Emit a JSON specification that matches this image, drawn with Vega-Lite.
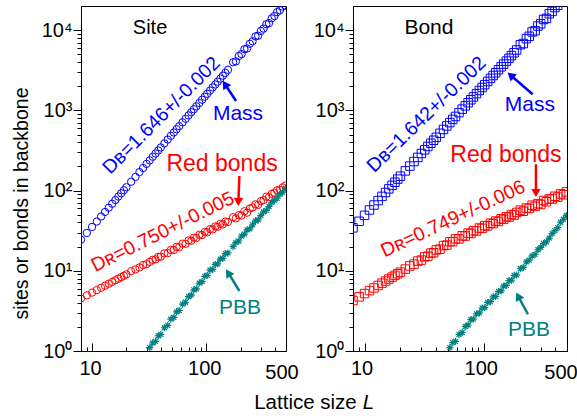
{
"$schema": "https://vega.github.io/schema/vega-lite/v6.json",
"background": "white",
"padding": {"left": 10, "top": 5, "right": 5, "bottom": 5},
"config": {
  "font": "Liberation Sans",
  "view": {"stroke": "black", "strokeWidth": 1},
  "axis": {"grid": false, "domainColor": "black", "tickColor": "black", "labelColor": "black", "titleColor": "black", "labelFont": "Liberation Sans", "labelFontSize": 20, "titleFont": "Liberation Sans", "titleFontWeight": "normal", "titleFontSize": 20, "labelFlush": false, "labelOverlap": false, "labelBound": false, "tickWidth": 1, "domainWidth": 1}
},
"datasets": {
"site": [
{"L":8,"m":24.4,"r":4.52},{"L":9,"m":29.6,"r":4.94},{"L":10,"m":35.2,"r":5.35},{"L":11,"m":41.1,"r":5.75},{"L":12,"m":47.5,"r":6.14},{"L":13,"m":54.1,"r":6.52},{"L":14,"m":61.2,"r":6.9},{"L":15,"m":68.5,"r":7.27},{"L":16,"m":76.2,"r":7.63},{"L":17,"m":84.2,"r":7.98},{"L":18,"m":92.5,"r":8.34},{"L":19,"m":101,"r":8.68},{"L":20,"m":110,"r":9.03},{"L":22,"m":129,"r":9.9},{"L":24,"m":148,"r":10.4},{"L":26,"m":170,"r":11.0},{"L":28,"m":191,"r":11.8},{"L":30,"m":215,"r":12.1},
{"L":32,"m":238,"r":12.9,"p":1.10},{"L":34,"m":264,"r":13.7,"p":1.26},{"L":36,"m":290,"r":13.9,"p":1.32},{"L":38,"m":316,"r":14.9,"p":1.55},{"L":40,"m":345,"r":15.0,"p":1.61},{"L":43,"m":388,"r":16.5,"p":1.95},{"L":46,"m":433,"r":16.6,"p":2.09},{"L":49,"m":481,"r":18.2,"p":2.49},{"L":52,"m":530,"r":18.2,"p":2.62},{"L":55,"m":582,"r":19.9,"p":3.08},{"L":58,"m":635,"r":19.7,"p":3.2},{"L":62,"m":709,"r":21.8,"p":3.84},{"L":66,"m":785,"r":21.7,"p":4.05},{"L":70,"m":865,"r":23.9,"p":4.77},{"L":74,"m":948,"r":23.7,"p":4.96},{"L":78,"m":1034,"r":25.9,"p":5.79},{"L":82,"m":1122,"r":25.6,"p":5.96},{"L":87,"m":1237,"r":28.1,"p":7.03},{"L":92,"m":1357,"r":27.9,"p":7.31},{"L":97,"m":1480,"r":30.5,"p":8.53},{"L":102,"m":1608,"r":30.2,"p":8.78},{"L":108,"m":1766,"r":33.1,"p":10.2},{"L":114,"m":1931,"r":32.8,"p":10.4},{"L":120,"m":2101,"r":35.8,"p":12.0},{"L":126,"m":2277,"r":35.4,"p":12.2},{"L":133,"m":2488,"r":38.5,"p":14.0},{"L":140,"m":2707,"r":37.9,"p":14.3},{"L":147,"m":2934,"r":41.1,"p":16.4},{"L":155,"m":3201,"r":40.6,"p":16.7},
{"L":172,"m":3977,"r":46.5,"p":20.0},{"L":182,"m":4075,"r":45.0,"p":22.4},{"L":193,"m":4755,"r":49.5,"p":23.5},{"L":204,"m":5030,"r":48.8,"p":27.1},{"L":216,"m":5789,"r":55.2,"p":28.7},{"L":228,"m":5903,"r":53.0,"p":32.4},{"L":241,"m":6772,"r":59.8,"p":33.4},{"L":255,"m":7263,"r":61.7,"p":37.4},{"L":270,"m":8359,"r":67.4,"p":41.9},{"L":285,"m":8523,"r":66.3,"p":43.1},{"L":301,"m":9768,"r":73.9,"p":48.7},{"L":318,"m":10450,"r":76.1,"p":54.4},{"L":336,"m":11840,"r":84.0,"p":56.7},{"L":355,"m":12240,"r":82.5,"p":63.3},{"L":375,"m":14030,"r":91.1,"p":70.7},{"L":396,"m":14990,"r":93.7,"p":75.3},{"L":418,"m":16770,"r":100.9,"p":80.2},{"L":442,"m":17750,"r":101.6,"p":89.7},{"L":467,"m":19670,"r":109.6,"p":95.7},{"L":494,"m":20300,"r":115.6,"p":107}
],
"bond": [
{"L":8,"m":34.3,"r":4.27},{"L":9,"m":41.4,"r":4.73},{"L":10,"m":49.1,"r":5.2},{"L":11,"m":57.3,"r":5.66},{"L":12,"m":66.0,"r":6.11},{"L":13,"m":75.0,"r":6.56},{"L":14,"m":84.6,"r":7.01},{"L":15,"m":94.6,"r":7.45},{"L":16,"m":105,"r":7.89},{"L":17,"m":116,"r":8.33},{"L":18,"m":127,"r":8.76},{"L":19,"m":139,"r":9.19},{"L":20,"m":151,"r":9.62},{"L":22,"m":176,"r":10.5},{"L":24,"m":202,"r":11.5},{"L":26,"m":230,"r":12.1},{"L":28,"m":259,"r":13.2},{"L":30,"m":290,"r":13.6},{"L":32,"m":322,"r":14.9},{"L":34,"m":355,"r":15.2},{"L":36,"m":389,"r":16.6},{"L":38,"m":424,"r":16.8},{"L":40,"m":461,"r":18.2},{"L":43,"m":518,"r":18.6},{"L":46,"m":578,"r":20.6},{"L":49,"m":640,"r":20.9},
{"L":52,"m":704,"r":23.0,"p":1.10},{"L":55,"m":771,"r":23.1,"p":1.27},{"L":58,"m":840,"r":25.0,"p":1.32},{"L":62,"m":936,"r":25.0,"p":1.6},{"L":66,"m":1035,"r":27.3,"p":1.7},{"L":70,"m":1138,"r":27.1,"p":2.02},{"L":74,"m":1245,"r":29.5,"p":2.11},{"L":78,"m":1356,"r":29.2,"p":2.46},{"L":82,"m":1470,"r":31.6,"p":2.5},{"L":87,"m":1617,"r":31.4,"p":2.9},{"L":92,"m":1770,"r":34.1,"p":2.98},{"L":97,"m":1928,"r":33.8,"p":3.43},{"L":102,"m":2091,"r":36.6,"p":3.48},{"L":108,"m":2293,"r":36.2,"p":4.03},{"L":114,"m":2502,"r":39.2,"p":4.12},{"L":120,"m":2719,"r":38.7,"p":4.73},{"L":126,"m":2941,"r":41.7,"p":4.8},{"L":133,"m":3211,"r":41.2,"p":5.53},{"L":140,"m":3486,"r":44.5,"p":5.63},{"L":147,"m":3773,"r":43.8,"p":6.44},{"L":155,"m":4109,"r":47.3,"p":6.57},{"L":163,"m":4458,"r":46.7,"p":7.53},{"L":171,"m":4816,"r":50.3,"p":7.62},{"L":180,"m":5232,"r":49.6,"p":8.76},{"L":189,"m":5661,"r":53.4,"p":8.88},
{"L":203,"m":6576,"r":57.1,"p":10.6},{"L":215,"m":6811,"r":55.2,"p":11.0},{"L":228,"m":7841,"r":60.6,"p":12.9},{"L":241,"m":8380,"r":59.9,"p":13.6},{"L":255,"m":9504,"r":65.7,"p":15.3},{"L":270,"m":9843,"r":63.5,"p":16.0},{"L":285,"m":11250,"r":68.7,"p":18.3},{"L":301,"m":12000,"r":67.1,"p":19.6},{"L":318,"m":13580,"r":75.2,"p":21.9},{"L":336,"m":14010,"r":72.6,"p":22.9},{"L":355,"m":16030,"r":78.6,"p":25.6},{"L":375,"m":17120,"r":78.5,"p":29.1},{"L":396,"m":19130,"r":85.0,"p":31.7},{"L":418,"m":20400,"r":82.9,"p":34.5},{"L":442,"r":90.9,"p":40.3},{"L":467,"r":88.8,"p":43.9},{"L":494,"r":96.3,"p":49.0}
]
},
"bounds": "flush",
"spacing": 67,
"hconcat": [
{
  "width": 205, "height": 345,
  "data": {"name": "site"},
  "layer": [
    {"mark": {"type": "point", "shape": "circle", "filled": false, "color": "#0000ff", "strokeWidth": 1, "size": 54, "opacity": 1, "clip": true},
     "encoding": {
       "x": {"field": "L", "type": "quantitative", "scale": {"type": "log", "domain": [8, 500], "nice": false},
         "axis": {"values": [8,9,10,20,30,40,50,60,70,80,90,100,200,300,400,500],
           "labelExpr": "datum.value == 10 ? '10' : datum.value == 100 ? '100' : datum.value == 500 ? '500' : ''",
           "tickSize": {"condition": {"test": "datum.value == 10 || datum.value == 100", "value": -8}, "value": -4},
           "labelOffset": {"condition": {"test": "datum.value == 500", "value": -4.5}, "value": -2},
           "labelPadding": 15, "title": "Lattice size", "titleX": 224, "titleY": 57, "titleBaseline": "alphabetic", "titleFontSize": 20.5}},
       "y": {"field": "m", "type": "quantitative", "scale": {"type": "log", "domain": [1, 20000], "nice": false},
         "axis": {"values": [1,2,3,4,5,6,7,8,9,10,20,30,40,50,60,70,80,90,100,200,300,400,500,600,700,800,900,1000,2000,3000,4000,5000,6000,7000,8000,9000,10000],
           "labelExpr": "datum.value == 1 ? '10⁰' : datum.value == 10 ? '10¹' : datum.value == 100 ? '10²' : datum.value == 1000 ? '10³' : datum.value == 10000 ? '10⁴' : ''",
           "tickSize": {"condition": {"test": "datum.value == 1 || datum.value == 10 || datum.value == 100 || datum.value == 1000 || datum.value == 10000", "value": 8}, "value": 4},
           "labelPadding": 1, "title": "sites or bonds in backbone", "titleFontSize": 19.5, "titlePadding": 10, "titleY": 197}}
     }},
    {"mark": {"type": "point", "shape": "circle", "filled": false, "color": "#ff0000", "strokeWidth": 1, "size": 54, "opacity": 1, "clip": true},
     "encoding": {"x": {"field": "L", "type": "quantitative"}, "y": {"field": "r", "type": "quantitative"}}},
    {"mark": {"type": "point", "shape": "M-1,0L1,0M0,-1L0,1M-0.7,-0.7L0.7,0.7M-0.7,0.7L0.7,-0.7", "filled": false, "color": "#008080", "strokeWidth": 1.2, "size": 50, "opacity": 1, "clip": true},
     "encoding": {"x": {"field": "L", "type": "quantitative"}, "y": {"field": "p", "type": "quantitative"}}},
    {"data": {"values": [{"L": 32.2, "N": 10650, "t": "Site"}]},
     "mark": {"type": "text", "fontSize": 20, "color": "black", "align": "center", "baseline": "middle"},
     "encoding": {"x": {"field": "L", "type": "quantitative"}, "y": {"field": "N", "type": "quantitative"}, "text": {"field": "t"}}},
    {"data": {"values": [{"L": 190, "N": 902, "t": "Mass"}]},
     "mark": {"type": "text", "fontSize": 21, "color": "#0000ff", "align": "center", "baseline": "middle"},
     "encoding": {"x": {"field": "L", "type": "quantitative"}, "y": {"field": "N", "type": "quantitative"}, "text": {"field": "t"}}},
    {"data": {"values": [{"L": 40.6, "N": 864, "t": "Dʙ=1.646+/-0.002"}]},
     "mark": {"type": "text", "fontSize": 19.5, "color": "#0000ff", "align": "center", "baseline": "middle", "angle": -45},
     "encoding": {"x": {"field": "L", "type": "quantitative"}, "y": {"field": "N", "type": "quantitative"}, "text": {"field": "t"}}},
    {"data": {"values": [{"L": 137.7, "N": 214.6, "t": "Red bonds"}]},
     "mark": {"type": "text", "fontSize": 23, "color": "#ff0000", "align": "center", "baseline": "middle"},
     "encoding": {"x": {"field": "L", "type": "quantitative"}, "y": {"field": "N", "type": "quantitative"}, "text": {"field": "t"}}},
    {"data": {"values": [{"L": 41.6, "N": 30.5, "t": "Dʀ=0.750+/-0.005"}]},
     "mark": {"type": "text", "fontSize": 19.5, "color": "#ff0000", "align": "center", "baseline": "middle", "angle": -26.5},
     "encoding": {"x": {"field": "L", "type": "quantitative"}, "y": {"field": "N", "type": "quantitative"}, "text": {"field": "t"}}},
    {"data": {"values": [{"L": 198, "N": 3.44, "t": "PBB"}]},
     "mark": {"type": "text", "fontSize": 21, "color": "#008080", "align": "center", "baseline": "middle"},
     "encoding": {"x": {"field": "L", "type": "quantitative"}, "y": {"field": "N", "type": "quantitative"}, "text": {"field": "t"}}},
    {"data": {"values": [{"L1": 182.6, "N1": 1310, "L2": 146, "N2": 2116}]},
     "layer": [
       {"mark": {"type": "rule", "color": "#0000ff", "strokeWidth": 2.5},
        "encoding": {"x": {"field": "L1", "type": "quantitative"}, "y": {"field": "N1", "type": "quantitative"}, "x2": {"field": "L2"}, "y2": {"field": "N2"}}},
       {"mark": {"type": "point", "shape": "triangle-up", "filled": true, "color": "#0000ff", "size": 90, "angle": -33.6, "opacity": 1},
        "encoding": {"x": {"field": "L2", "type": "quantitative"}, "y": {"field": "N2", "type": "quantitative"}}}
     ]},
    {"data": {"values": [{"L1": 195.2, "N1": 152, "L2": 191.3, "N2": 72.1}]},
     "layer": [
       {"mark": {"type": "rule", "color": "#ff0000", "strokeWidth": 2.5},
        "encoding": {"x": {"field": "L1", "type": "quantitative"}, "y": {"field": "N1", "type": "quantitative"}, "x2": {"field": "L2"}, "y2": {"field": "N2"}}},
       {"mark": {"type": "point", "shape": "triangle-up", "filled": true, "color": "#ff0000", "size": 90, "angle": 181.9, "opacity": 1},
        "encoding": {"x": {"field": "L2", "type": "quantitative"}, "y": {"field": "N2", "type": "quantitative"}}}
     ]},
    {"data": {"values": [{"L1": 195.2, "N1": 5.6, "L2": 155.7, "N2": 9.47}]},
     "layer": [
       {"mark": {"type": "rule", "color": "#008080", "strokeWidth": 2.5},
        "encoding": {"x": {"field": "L1", "type": "quantitative"}, "y": {"field": "N1", "type": "quantitative"}, "x2": {"field": "L2"}, "y2": {"field": "N2"}}},
       {"mark": {"type": "point", "shape": "triangle-up", "filled": true, "color": "#008080", "size": 90, "angle": -31.5, "opacity": 1},
        "encoding": {"x": {"field": "L2", "type": "quantitative"}, "y": {"field": "N2", "type": "quantitative"}}}
     ]}
  ]
},
{
  "width": 214, "height": 345,
  "data": {"name": "bond"},
  "layer": [
    {"mark": {"type": "point", "shape": "square", "filled": false, "color": "#0000ff", "strokeWidth": 1, "size": 72, "opacity": 1, "clip": true},
     "encoding": {
       "x": {"field": "L", "type": "quantitative", "scale": {"type": "log", "domain": [8, 500], "nice": false},
         "axis": {"values": [8,9,10,20,30,40,50,60,70,80,90,100,200,300,400,500],
           "labelExpr": "datum.value == 10 ? '10' : datum.value == 100 ? '100' : datum.value == 500 ? '500' : ''",
           "tickSize": {"condition": {"test": "datum.value == 10 || datum.value == 100", "value": -8}, "value": -4},
           "labelOffset": {"condition": {"test": "datum.value == 500", "value": -6.5}, "value": -3},
           "labelPadding": 15, "title": "L", "titleFontStyle": "italic", "titleX": 15, "titleY": 57, "titleBaseline": "alphabetic", "titleFontSize": 20.5}},
       "y": {"field": "m", "type": "quantitative", "scale": {"type": "log", "domain": [1, 20000], "nice": false},
         "axis": {"values": [1,2,3,4,5,6,7,8,9,10,20,30,40,50,60,70,80,90,100,200,300,400,500,600,700,800,900,1000,2000,3000,4000,5000,6000,7000,8000,9000,10000],
           "labelExpr": "datum.value == 1 ? '10⁰' : datum.value == 10 ? '10¹' : datum.value == 100 ? '10²' : datum.value == 1000 ? '10³' : datum.value == 10000 ? '10⁴' : ''",
           "tickSize": {"condition": {"test": "datum.value == 1 || datum.value == 10 || datum.value == 100 || datum.value == 1000 || datum.value == 10000", "value": 8}, "value": 4},
           "labelPadding": 1, "title": null}}
     }},
    {"mark": {"type": "point", "shape": "square", "filled": false, "color": "#ff0000", "strokeWidth": 1, "size": 72, "opacity": 1, "clip": true},
     "encoding": {"x": {"field": "L", "type": "quantitative"}, "y": {"field": "r", "type": "quantitative"}}},
    {"mark": {"type": "point", "shape": "M-1,0L1,0M0,-1L0,1M-0.7,-0.7L0.7,0.7M-0.7,0.7L0.7,-0.7", "filled": false, "color": "#008080", "strokeWidth": 1.2, "size": 50, "opacity": 1, "clip": true},
     "encoding": {"x": {"field": "L", "type": "quantitative"}, "y": {"field": "p", "type": "quantitative"}}},
    {"data": {"values": [{"L": 34.7, "N": 10650, "t": "Bond"}]},
     "mark": {"type": "text", "fontSize": 21, "color": "black", "align": "center", "baseline": "middle"},
     "encoding": {"x": {"field": "L", "type": "quantitative"}, "y": {"field": "N", "type": "quantitative"}, "text": {"field": "t"}}},
    {"data": {"values": [{"L": 244, "N": 1168, "t": "Mass"}]},
     "mark": {"type": "text", "fontSize": 21, "color": "#0000ff", "align": "center", "baseline": "middle"},
     "encoding": {"x": {"field": "L", "type": "quantitative"}, "y": {"field": "N", "type": "quantitative"}, "text": {"field": "t"}}},
    {"data": {"values": [{"L": 33.1, "N": 889, "t": "Dʙ=1.642+/-0.002"}]},
     "mark": {"type": "text", "fontSize": 19.5, "color": "#0000ff", "align": "center", "baseline": "middle", "angle": -44},
     "encoding": {"x": {"field": "L", "type": "quantitative"}, "y": {"field": "N", "type": "quantitative"}, "text": {"field": "t"}}},
    {"data": {"values": [{"L": 153.7, "N": 278, "t": "Red bonds"}]},
     "mark": {"type": "text", "fontSize": 23, "color": "#ff0000", "align": "center", "baseline": "middle"},
     "encoding": {"x": {"field": "L", "type": "quantitative"}, "y": {"field": "N", "type": "quantitative"}, "text": {"field": "t"}}},
    {"data": {"values": [{"L": 55.3, "N": 44.5, "t": "Dʀ=0.749+/-0.006"}]},
     "mark": {"type": "text", "fontSize": 19.5, "color": "#ff0000", "align": "center", "baseline": "middle", "angle": -25},
     "encoding": {"x": {"field": "L", "type": "quantitative"}, "y": {"field": "N", "type": "quantitative"}, "text": {"field": "t"}}},
    {"data": {"values": [{"L": 239.7, "N": 1.83, "t": "PBB"}]},
     "mark": {"type": "text", "fontSize": 21, "color": "#008080", "align": "center", "baseline": "middle"},
     "encoding": {"x": {"field": "L", "type": "quantitative"}, "y": {"field": "N", "type": "quantitative"}, "text": {"field": "t"}}},
    {"data": {"values": [{"L1": 257.5, "N1": 1588, "L2": 168.3, "N2": 2740}]},
     "layer": [
       {"mark": {"type": "rule", "color": "#0000ff", "strokeWidth": 2.5},
        "encoding": {"x": {"field": "L1", "type": "quantitative"}, "y": {"field": "N1", "type": "quantitative"}, "x2": {"field": "L2"}, "y2": {"field": "N2"}}},
       {"mark": {"type": "point", "shape": "triangle-up", "filled": true, "color": "#0000ff", "size": 90, "angle": -49.2, "opacity": 1},
        "encoding": {"x": {"field": "L2", "type": "quantitative"}, "y": {"field": "N2", "type": "quantitative"}}}
     ]},
    {"data": {"values": [{"L1": 274.4, "N1": 212.8, "L2": 274.4, "N2": 93.3}]},
     "layer": [
       {"mark": {"type": "rule", "color": "#ff0000", "strokeWidth": 2.5},
        "encoding": {"x": {"field": "L1", "type": "quantitative"}, "y": {"field": "N1", "type": "quantitative"}, "x2": {"field": "L2"}, "y2": {"field": "N2"}}},
       {"mark": {"type": "point", "shape": "triangle-up", "filled": true, "color": "#ff0000", "size": 90, "angle": 180, "opacity": 1},
        "encoding": {"x": {"field": "L2", "type": "quantitative"}, "y": {"field": "N2", "type": "quantitative"}}}
     ]},
    {"data": {"values": [{"L1": 235, "N1": 2.87, "L2": 194.5, "N2": 4.82}]},
     "layer": [
       {"mark": {"type": "rule", "color": "#008080", "strokeWidth": 2.5},
        "encoding": {"x": {"field": "L1", "type": "quantitative"}, "y": {"field": "N1", "type": "quantitative"}, "x2": {"field": "L2"}, "y2": {"field": "N2"}}},
       {"mark": {"type": "point", "shape": "triangle-up", "filled": true, "color": "#008080", "size": 90, "angle": -28.4, "opacity": 1},
        "encoding": {"x": {"field": "L2", "type": "quantitative"}, "y": {"field": "N2", "type": "quantitative"}}}
     ]}
  ]
}
]
}
